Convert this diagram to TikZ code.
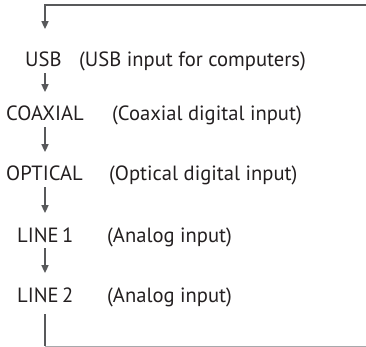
\documentclass[tikz,border=0pt]{standalone}
\usepackage{fontspec}
\setmainfont{PT Sans}
\usetikzlibrary{arrows.meta}
\definecolor{linegray}{HTML}{58595B}
\definecolor{thingray}{HTML}{A7A9AC}
\definecolor{textgray}{HTML}{231F20}
\tikzset{
  src/.style={anchor=base west,inner sep=0pt,text=textgray},
  flow/.style={draw=linegray,line width=1.6pt,-{Triangle[width=7pt,length=8pt]},shorten <=6pt,shorten >=14pt},
}
\begin{document}
\begin{tikzpicture}[x=1pt,y=-1pt,font=\fontsize{20.6}{24}\selectfont]
  \useasboundingbox (0,0) rectangle (366,347);
  \coordinate (col) at (45,0);
  \coordinate (tr) at (366,5);
  \coordinate (br) at (366,346);
  % input names
  \node[src] (usb) at (25,67) {USB};
  \node[src] (coax) at (6,121) {COAXIAL};
  \node[src] (opt) at (6,181) {OPTICAL};
  \node[src] (linea) at (17,242) {LINE\,1};
  \node[src] (lineb) at (17,302) {LINE\,2};
  % descriptions
  \node[src] (usbtxt) at (79,67) {(USB input for computers)};
  \node[src] (coaxtxt) at (112,121) {(Coaxial digital input)};
  \node[src] (opttxt) at (109,181) {(Optical digital input)};
  \node[src] (lineatxt) at (107,242) {(Analog input)};
  \node[src] (linebtxt) at (107,302) {(Analog input)};
  % loop
  \draw[flow,shorten <=0pt,shorten >=23pt] (tr) -| (col |- usb.north);
  \draw[flow] (col |- usb.south) -- (col |- coax.north);
  \draw[flow] (col |- coax.south) -- (col |- opt.north);
  \draw[flow] (col |- opt.south) -- (col |- linea.north);
  \draw[flow] (col |- linea.south) -- (col |- lineb.north);
  \draw[linegray,line width=1.6pt,shorten <=12pt] (col |- lineb.south) -- (col |- br);
  \draw[thingray,line width=0.8pt] (col |- br) -- (br);
\end{tikzpicture}
\end{document}
